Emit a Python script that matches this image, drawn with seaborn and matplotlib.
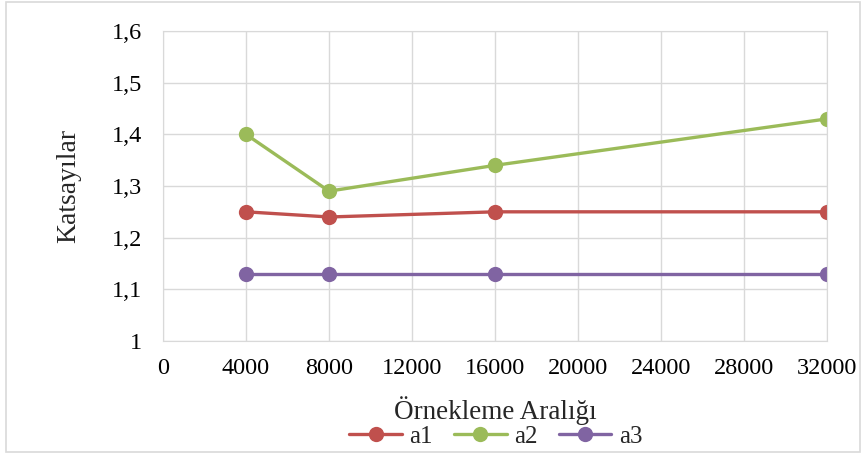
import pandas as pd
import matplotlib
matplotlib.use("Agg")
import matplotlib.pyplot as plt
import seaborn as sns
from matplotlib.patches import Rectangle
from matplotlib.ticker import FuncFormatter

# sample intervals and coefficients
araliklar = [4000, 8000, 16000, 32000]
a1 = [1.25, 1.24, 1.25, 1.25]
a2 = [1.40, 1.29, 1.34, 1.43]
a3 = [1.13, 1.13, 1.13, 1.13]
seriler = ["a1", "a2", "a3"]
renkler = ["#C0504D", "#9BBB59", "#8064A2"]

df = pd.DataFrame({
    "aralik": araliklar * 3,
    "deger": a1 + a2 + a3,
    "seri": ["a1"] * 4 + ["a2"] * 4 + ["a3"] * 4,
})

sns.set_style("white")
plt.rcParams["font.family"] = ["Liberation Serif", "DejaVu Serif"]

fig = plt.figure(figsize=(8.67, 4.57), dpi=100)
ax = fig.add_axes([0.188, 0.254, 0.766, 0.678])

sns.lineplot(data=df, x="aralik", y="deger", hue="seri", hue_order=seriler,
             palette=renkler, marker="o", markersize=11, markeredgewidth=0,
             linewidth=2.4, ax=ax)

ax.set_xlim(0, 32000)
ax.set_ylim(1, 1.6)
ax.set_xticks(range(0, 32001, 4000))
ax.set_yticks([1, 1.1, 1.2, 1.3, 1.4, 1.5, 1.6])
ax.yaxis.set_major_formatter(FuncFormatter(lambda v, p: ("%g" % round(v, 1)).replace(".", ",")))
ax.grid(True, color="#d9d9d9", linewidth=1)
ax.set_axisbelow(True)
for s in ax.spines.values():
    s.set_color("#d9d9d9")
ax.tick_params(axis="both", labelsize=17.5, length=0, colors="black")
ax.tick_params(axis="x", pad=12)
ax.tick_params(axis="y", pad=15)

ax.set_xlabel("Örnekleme Aralığı", fontsize=19.5, labelpad=13)
ax.set_ylabel("Katsayılar", fontsize=20, labelpad=22)

ax.get_legend().remove()
h, l = ax.get_legend_handles_labels()
fig.legend(h, l, loc="center", bbox_to_anchor=(0.572, 0.044), ncol=3, frameon=False,
           fontsize=18, handlelength=2.1, columnspacing=0.85, handletextpad=0.3,
           borderpad=0)

fig.patches.append(Rectangle((0.007, 0.01), 0.985, 0.985, transform=fig.transFigure,
                             fill=False, edgecolor="#d9d9d9", linewidth=1.2))

fig.savefig("out.png", dpi=100)
